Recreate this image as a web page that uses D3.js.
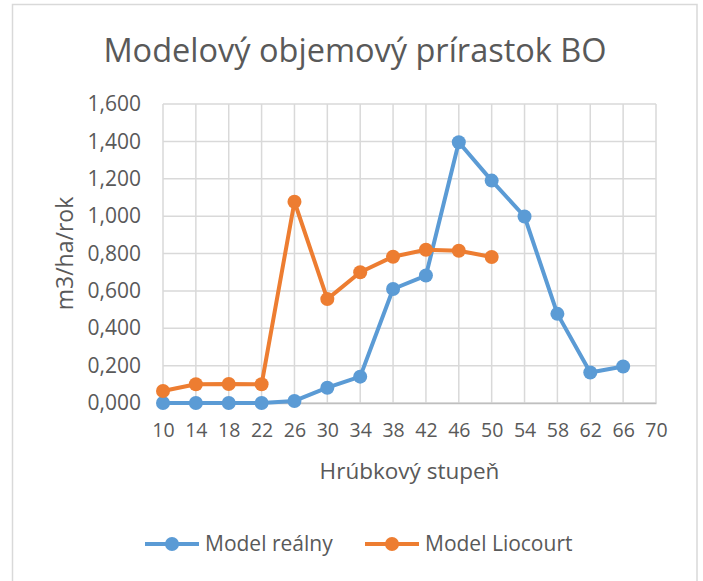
<!DOCTYPE html>
<html>
<head>
<meta charset="utf-8">
<script src="https://cdn.jsdelivr.net/npm/d3@7"></script>
<style>
  body { margin: 0; background: #fff; }
  text { font-family: "Open Sans", sans-serif; fill: #595959; }
</style>
</head>
<body>
<script>
// Hrúbkový stupeň (categories)
const stupne = [10, 14, 18, 22, 26, 30, 34, 38, 42, 46, 50, 54, 58, 62, 66, 70];
// series values (null = no point)
const modelRealny = [0, 0, 0, 0, 0.011, 0.082, 0.141, 0.61, 0.682, 1.395, 1.19, 0.998, 0.477, 0.163, 0.195, null];
const modelLiocourt = [0.064, 0.1, 0.102, 0.1, 1.077, 0.556, 0.7, 0.783, 0.82, 0.815, 0.781, null, null, null, null, null];
const yTicks = [0, 0.2, 0.4, 0.6, 0.8, 1.0, 1.2, 1.4, 1.6];

const series = [
  { name: "Model reálny", values: modelRealny, color: "#5B9BD5" },
  { name: "Model Liocourt", values: modelLiocourt, color: "#ED7D31" }
];

const width = 703, height = 581;
const margin = { left: 163, right: 47, top: 104, bottom: 178 };

const svg = d3.select("body").append("svg")
  .attr("width", width)
  .attr("height", height);

// chart border
svg.append("rect")
  .attr("x", 12.5).attr("y", 4.5)
  .attr("width", 684.5).attr("height", 600)
  .attr("fill", "none")
  .attr("stroke", "#d9d9d9")
  .attr("stroke-width", 1.5);

const x = d3.scalePoint()
  .domain(stupne)
  .range([margin.left, width - margin.right])
  .padding(0);

const y = d3.scaleLinear()
  .domain([0, 1.6])
  .range([height - margin.bottom, margin.top]);

// comma decimal, as in the original
const fmt = v => d3.format(".3f")(v).replace(".", ",");

// gridlines
const grid = svg.append("g");
grid.selectAll("line.h")
  .data(yTicks)
  .join("line")
  .attr("class", "h")
  .attr("x1", margin.left).attr("x2", width - margin.right)
  .attr("y1", d => y(d)).attr("y2", d => y(d))
  .attr("stroke", "#d9d9d9").attr("stroke-width", 1.5);
grid.selectAll("line.v")
  .data(stupne)
  .join("line")
  .attr("class", "v")
  .attr("x1", d => x(d)).attr("x2", d => x(d))
  .attr("y1", margin.top).attr("y2", y(0))
  .attr("stroke", "#d9d9d9").attr("stroke-width", 1.5);

// y axis
const yAxis = svg.append("g")
  .attr("transform", `translate(${margin.left},0)`)
  .call(d3.axisLeft(y).tickValues(yTicks).tickFormat(fmt).tickSize(0).tickPadding(22));
yAxis.select(".domain").remove();
yAxis.selectAll("text")
  .style("font-size", "21px")
  .attr("fill", "#595959");

// x axis
const xAxis = svg.append("g")
  .attr("transform", `translate(0,${y(0)})`)
  .call(d3.axisBottom(x).tickSize(0).tickPadding(20));
xAxis.select(".domain").attr("stroke", "#bfbfbf").attr("stroke-width", 1.5);
xAxis.selectAll("text")
  .style("font-size", "19.5px")
  .attr("fill", "#595959");

// lines and markers
series.forEach(s => {
  const pts = stupne.map((k, i) => ({ k, v: s.values[i] })).filter(d => d.v !== null);
  svg.append("path")
    .datum(pts)
    .attr("fill", "none")
    .attr("stroke", s.color)
    .attr("stroke-width", 4)
    .attr("stroke-linejoin", "round")
    .attr("d", d3.line().x(d => x(d.k)).y(d => y(d.v)));
  svg.append("g")
    .selectAll("circle")
    .data(pts)
    .join("circle")
    .attr("cx", d => x(d.k))
    .attr("cy", d => y(d.v))
    .attr("r", 7)
    .attr("fill", s.color);
});

// title
svg.append("text")
  .attr("x", 355).attr("y", 62)
  .attr("text-anchor", "middle")
  .style("font-size", "32.5px")
  .text("Modelový objemový prírastok BO");

// axis titles
svg.append("text")
  .attr("transform", `translate(73,${(margin.top + y(0)) / 2}) rotate(-90)`)
  .attr("text-anchor", "middle")
  .style("font-size", "23px")
  .text("m3/ha/rok");

svg.append("text")
  .attr("x", (margin.left + width - margin.right) / 2)
  .attr("y", 479)
  .attr("text-anchor", "middle")
  .style("font-size", "22.5px")
  .text("Hrúbkový stupeň");

// legend
const legend = svg.append("g").attr("transform", "translate(145,544)");
const items = legend.selectAll("g")
  .data(series)
  .join("g")
  .attr("transform", (d, i) => `translate(${i * 220},0)`);
items.append("line")
  .attr("x1", 0).attr("x2", 54)
  .attr("stroke", d => d.color)
  .attr("stroke-width", 4);
items.append("circle")
  .attr("cx", 27).attr("r", 7)
  .attr("fill", d => d.color);
items.append("text")
  .attr("x", 60).attr("dy", "0.35em")
  .style("font-size", "21px")
  .text(d => d.name);
</script>
</body>
</html>
